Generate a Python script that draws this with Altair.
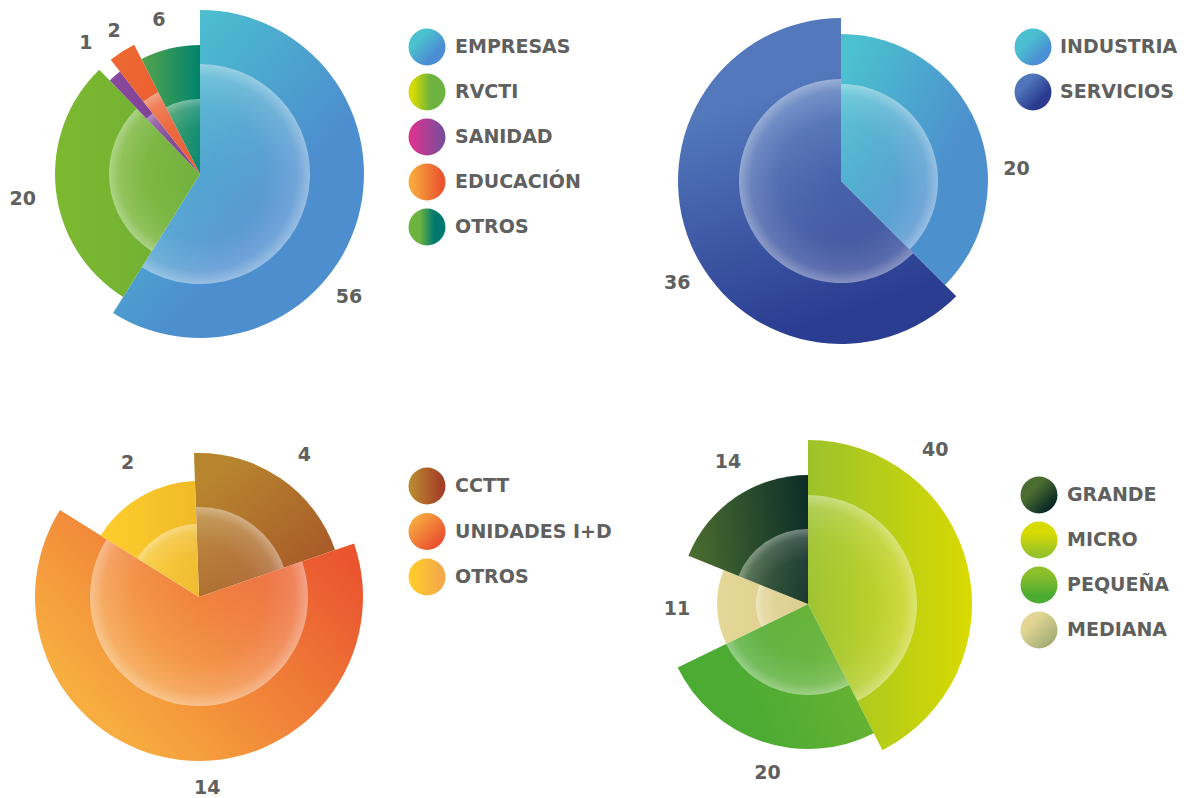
import math
import altair as alt
import pandas as pd

# ---------------- data ----------------
# slice order is clockwise from 12 o'clock; "sweep" = degrees of the circle each slice takes in the picture
tl_cats = ["EMPRESAS", "RVCTI", "SANIDAD", "EDUCACIÓN", "OTROS"]
tl_values = [56, 20, 1, 2, 6]
tl_sweep = [212, 104, 6, 11, 27]
tl_legend = ["EMPRESAS", "RVCTI", "SANIDAD", "EDUCACIÓN", "OTROS"]

tr_cats = ["INDUSTRIA", "SERVICIOS"]
tr_values = [20, 36]
tr_sweep = [135, 225]
tr_legend = ["INDUSTRIA", "SERVICIOS"]

bl_cats = ["CCTT", "UNIDADES I+D", "OTROS"]
bl_values = [4, 14, 2]
bl_sweep = [73, 231, 56]
bl_legend = ["CCTT", "UNIDADES I+D", "OTROS"]

br_cats = ["MICRO", "PEQUEÑA", "MEDIANA", "GRANDE"]
br_values = [40, 20, 11, 14]
br_sweep = [153, 91, 48, 68]
br_legend = ["GRANDE", "MICRO", "PEQUEÑA", "MEDIANA"]

# ---------------- styles (layout, radii, gradients) ----------------
FONT = "DejaVu Sans"
TEXT_COLOR = "#606060"
QW = 587
QH_TOP, QH_BOTTOM = 391, 399

STYLE = {
    "tl": dict(center=(192, 166), start=0, lx=419, tx=447, ly=(39, 219),
               slices={
                   "EMPRESAS": dict(r=164, ri=110, grad=("#4BC1CF", "#4D8ECF", 0.3, 0.0, 0.75, 0.5), label=(23.5, 193)),
                   "RVCTI": dict(r=145, ri=91, grad=("#7DB92F", "#6CAE36", 0.0, 0.5, 1.0, 0.5), label=(-2, 179)),
                   "SANIDAD": dict(r=130, ri=77, grad=("#8A4A9E", "#74398E", 0.0, 0.5, 1.0, 0.5), label=(0, 174)),
                   "EDUCACIÓN": dict(r=145, ri=92, grad=("#EE6A33", "#E9562E", 0.0, 0.0, 1.0, 1.0), label=(1.5, 167)),
                   "OTROS": dict(r=129, ri=75, grad=("#55A34C", "#00846B", 0.0, 0.5, 1.0, 0.5), label=(-1.5, 159)),
               },
               legend={
                   "EMPRESAS": ("#4BC1CF", "#4B8CD2", 0.3, 0.3, 0.7, 0.7),
                   "RVCTI": ("#D8DB00", "#6DB33F", 0.1, 0.5, 0.6, 0.5),
                   "SANIDAD": ("#DA3590", "#7D4A9A", 0.1, 0.5, 0.9, 0.5),
                   "EDUCACIÓN": ("#F7A83C", "#EA5530", 0.1, 0.5, 0.9, 0.5),
                   "OTROS": ("#6DB33F", "#00786F", 0.3, 0.5, 0.7, 0.5),
               }),
    "tr": dict(center=(246, 173), start=0, lx=438, tx=465, ly=(39, 84),
               slices={
                   "INDUSTRIA": dict(r=147, ri=97, grad=("#4BC0CF", "#4D90CE", 0.1, 0.05, 0.7, 0.55), label=(18.5, 176)),
                   "SERVICIOS": dict(r=163, ri=102, grad=("#5379BC", "#2B3D91", 0.4, 0.2, 0.6, 0.9), label=(-9.5, 193)),
               },
               legend={
                   "INDUSTRIA": ("#4BBFD0", "#4A8ED3", 0.35, 0.35, 0.75, 0.75),
                   "SERVICIOS": ("#5075BA", "#2B3B90", 0.3, 0.3, 0.7, 0.7),
               }),
    "bl": dict(center=(191, 198), start=-2, lx=419, tx=447, ly=(87, 178),
               slices={
                   "CCTT": dict(r=144, ri=90, grad=("#B8852F", "#A65628", 0.2, 0.1, 0.9, 0.9), label=(2, 177)),
                   "UNIDADES I+D": dict(r=164, ri=109, grad=("#F7AD40", "#EA5530", 0.15, 0.75, 0.95, 0.2), label=(-9, 191)),
                   "OTROS": dict(r=116, ri=73, grad=("#FECD2C", "#F0BA28", 0.0, 0.5, 1.0, 0.5), label=(2, 152)),
               },
               legend={
                   "CCTT": ("#B8862F", "#A53E27", 0.1, 0.5, 0.9, 0.5),
                   "UNIDADES I+D": ("#F7A43E", "#EA5230", 0.2, 0.2, 0.8, 0.8),
                   "OTROS": ("#FDCB2C", "#F6A84A", 0.1, 0.5, 0.9, 0.5),
               }),
    "br": dict(center=(213, 205), start=0, lx=444, tx=472, ly=(96, 231),
               slices={
                   "MICRO": dict(r=164, ri=109, grad=("#9CC22B", "#D9DA00", 0.0, 0.5, 1.0, 0.5), label=(-37, 200)),
                   "PEQUEÑA": dict(r=145, ri=91, grad=("#4CAB33", "#6DB432", 0.3, 0.5, 1.0, 0.3), label=(-5, 174)),
                   "MEDIANA": dict(r=91, ri=52, grad=("#E5D898", "#DCCB8A", 0.0, 0.5, 1.0, 0.5), label=(0, 131)),
                   "GRANDE": dict(r=129, ri=75, grad=("#4B6E30", "#0E2F28", 0.0, 0.5, 1.0, 0.4), label=(4.6, 163)),
               },
               legend={
                   "GRANDE": ("#4B6E30", "#0B2A26", 0.35, 0.35, 0.8, 0.8),
                   "MICRO": ("#D8DB00", "#95C12C", 0.5, 0.3, 0.5, 0.9),
                   "PEQUEÑA": ("#8CBF2A", "#4AAB33", 0.5, 0.2, 0.5, 0.8),
                   "MEDIANA": ("#E3D694", "#A8B07A", 0.3, 0.3, 0.8, 0.8),
               }),
}

GLOSS_STOPS = [(0.0, 0.03), (0.6, 0.08), (0.88, 0.2), (1.0, 0.42)]


def lin(c0, c1, x1, y1, x2, y2):
    return alt.LinearGradient(
        gradient="linear",
        stops=[alt.GradientStop(offset=0, color=c0), alt.GradientStop(offset=1, color=c1)],
        x1=x1, y1=y1, x2=x2, y2=y2)


def gloss_gradient(a0, a1, r):
    """radial white gradient centred on the pie centre, in the sector's bbox units"""
    pts = [(0.0, 0.0)]
    for a in (a0, a1):
        t = math.radians(a)
        pts.append((r * math.sin(t), -r * math.cos(t)))
    k = math.floor(a0 / 90)
    while k * 90 <= a1:
        if a0 < k * 90 < a1:
            t = math.radians(k * 90)
            pts.append((r * math.sin(t), -r * math.cos(t)))
        k += 1
    xs = [p[0] for p in pts]
    ys = [p[1] for p in pts]
    minx, maxx, miny, maxy = min(xs), max(xs), min(ys), max(ys)
    s = max(maxx - minx, maxy - miny)
    ox = (minx + maxx) / 2 - s / 2
    oy = (miny + maxy) / 2 - s / 2
    gx, gy, gr = -ox / s, -oy / s, r / s
    return alt.RadialGradient(
        gradient="radial",
        stops=[alt.GradientStop(offset=o, color=f"rgba(255,255,255,{a})") for o, a in GLOSS_STOPS],
        x1=gx, y1=gy, r1=0, x2=gx, y2=gy, r2=gr)


def quadrant(key, cats, values, sweep, legend_order, height):
    st = STYLE[key]
    cx, cy = st["center"]
    df = pd.DataFrame({"cat": cats, "value": values, "sweep": sweep, "order": list(range(len(cats)))})
    base = alt.Chart(df).transform_window(
        cum="sum(sweep)", sort=[alt.SortField("order")]
    ).transform_calculate(
        t0=f"datum.cum - datum.sweep + ({st['start']})",
        t1=f"datum.cum + ({st['start']})",
    )
    theta_scale = alt.Scale(domain=[0, 360], range=[0, 2 * math.pi])
    layers = []
    a = st["start"]
    for cat, sw in zip(cats, sweep):
        s = st["slices"][cat]
        sel = base.transform_filter(alt.datum.cat == cat)
        enc = dict(theta=alt.Theta("t0:Q", scale=theta_scale), theta2=alt.Theta2("t1"),
                   x=alt.value(cx), y=alt.value(cy))
        outer = sel.mark_arc(fill=lin(*s["grad"]), strokeWidth=0).encode(radius=alt.value(s["r"]), **enc)
        gloss = sel.mark_arc(fill=gloss_gradient(a, a + sw, s["ri"]), strokeWidth=0).encode(
            radius=alt.value(s["ri"]), **enc)
        layers += [outer, gloss]
        a += sw
    for cat in cats:
        s = st["slices"][cat]
        shift, dist = s["label"]
        lab = base.transform_filter(alt.datum.cat == cat).transform_calculate(
            tm=f"(datum.t0 + datum.t1) / 2 + ({shift})"
        ).mark_text(font=FONT, fontWeight="bold", fontSize=19, color=TEXT_COLOR,
                    align="center", baseline="middle").encode(
            theta=alt.Theta("tm:Q", scale=theta_scale), radius=alt.value(dist),
            x=alt.value(cx), y=alt.value(cy), text=alt.Text("value:Q"))
        layers.append(lab)

    # legend
    ldf = pd.DataFrame({"cat": legend_order})
    yscale = alt.Scale(type="point", domain=legend_order, range=list(st["ly"]), padding=0)
    for cat in legend_order:
        sym = alt.Chart(ldf).transform_filter(alt.datum.cat == cat).mark_point(
            shape="circle", filled=True, size=1369, opacity=1, strokeWidth=0,
            fill=lin(*st["legend"][cat])
        ).encode(x=alt.value(st["lx"]), y=alt.Y("cat:N", scale=yscale, axis=None))
        layers.append(sym)
    txt = alt.Chart(ldf).mark_text(font=FONT, fontWeight="bold", fontSize=19, color=TEXT_COLOR,
                                   align="left", baseline="middle").encode(
        x=alt.value(st["tx"]), y=alt.Y("cat:N", scale=yscale, axis=None), text="cat:N")
    layers.append(txt)
    return alt.layer(*layers).properties(width=QW, height=height)


q1 = quadrant("tl", tl_cats, tl_values, tl_sweep, tl_legend, QH_TOP)
q2 = quadrant("tr", tr_cats, tr_values, tr_sweep, tr_legend, QH_TOP)
q3 = quadrant("bl", bl_cats, bl_values, bl_sweep, bl_legend, QH_BOTTOM)
q4 = quadrant("br", br_cats, br_values, br_sweep, br_legend, QH_BOTTOM)

chart = alt.concat(
    q1, q2, q3, q4, columns=2, spacing=0, bounds="flush",
).properties(padding=0, background="white").configure_view(stroke=None)

chart.save("out.html", embed_options={"renderer": "svg", "actions": False})
